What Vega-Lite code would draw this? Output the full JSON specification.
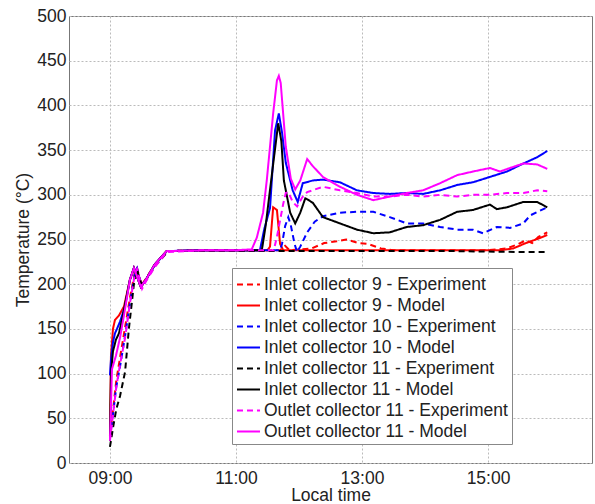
{
"$schema":"https://vega.github.io/schema/vega-lite/v6.json",
"width":523,"height":447,
"autosize":"none",
"padding":{"left":69,"top":16,"right":3,"bottom":41},
"config":{"view":{"stroke":"#777","strokeWidth":1},"font":"Liberation Sans",
"axis":{"labelFontSize":17.5,"titleFontSize":17.5,"titleFontWeight":"normal","labelColor":"#222","titleColor":"#222","grid":true,"gridDash":[2,2],"gridColor":"#bbb","tickSize":0,"domain":false},
"legend":{"orient":"none","legendX":163,"legendY":252,"labelFontSize":17.5,"labelColor":"#222","symbolType":"stroke","symbolStrokeWidth":2,"symbolSize":529,"strokeColor":"#888","fillColor":"white","padding":4,"rowPadding":-1.3,"labelOffset":3,"labelLimit":400,"cornerRadius":0}},
"data":{"values":[
{"s":"Inlet collector 9 - Experiment","t":9.0,"v":30},{"s":"Inlet collector 9 - Experiment","t":9.05,"v":60},{"s":"Inlet collector 9 - Experiment","t":9.1,"v":92},{"s":"Inlet collector 9 - Experiment","t":9.16,"v":118},{"s":"Inlet collector 9 - Experiment","t":9.24,"v":152},{"s":"Inlet collector 9 - Experiment","t":9.32,"v":186},{"s":"Inlet collector 9 - Experiment","t":9.4,"v":215},{"s":"Inlet collector 9 - Experiment","t":9.43,"v":218},{"s":"Inlet collector 9 - Experiment","t":9.5,"v":199},{"s":"Inlet collector 9 - Experiment","t":9.57,"v":206},{"s":"Inlet collector 9 - Experiment","t":9.71,"v":222},{"s":"Inlet collector 9 - Experiment","t":9.9,"v":237},{"s":"Inlet collector 9 - Experiment","t":10.5,"v":238},{"s":"Inlet collector 9 - Experiment","t":11.0,"v":238},{"s":"Inlet collector 9 - Experiment","t":11.5,"v":238},{"s":"Inlet collector 9 - Experiment","t":11.7,"v":238},{"s":"Inlet collector 9 - Experiment","t":11.78,"v":243},{"s":"Inlet collector 9 - Experiment","t":11.85,"v":238},{"s":"Inlet collector 9 - Experiment","t":12.2,"v":240},{"s":"Inlet collector 9 - Experiment","t":12.4,"v":246},{"s":"Inlet collector 9 - Experiment","t":12.6,"v":248},{"s":"Inlet collector 9 - Experiment","t":12.75,"v":250},{"s":"Inlet collector 9 - Experiment","t":12.95,"v":246},{"s":"Inlet collector 9 - Experiment","t":13.1,"v":245},{"s":"Inlet collector 9 - Experiment","t":13.3,"v":240},{"s":"Inlet collector 9 - Experiment","t":13.5,"v":238},{"s":"Inlet collector 9 - Experiment","t":14.0,"v":238},{"s":"Inlet collector 9 - Experiment","t":14.5,"v":238},{"s":"Inlet collector 9 - Experiment","t":15.0,"v":238},{"s":"Inlet collector 9 - Experiment","t":15.3,"v":240},{"s":"Inlet collector 9 - Experiment","t":15.45,"v":244},{"s":"Inlet collector 9 - Experiment","t":15.6,"v":249},{"s":"Inlet collector 9 - Experiment","t":15.7,"v":246},{"s":"Inlet collector 9 - Experiment","t":15.8,"v":253},{"s":"Inlet collector 9 - Experiment","t":15.94,"v":258},
{"s":"Inlet collector 9 - Model","t":9.0,"v":30},{"s":"Inlet collector 9 - Model","t":9.016,"v":120},{"s":"Inlet collector 9 - Model","t":9.048,"v":150},{"s":"Inlet collector 9 - Model","t":9.079,"v":160},{"s":"Inlet collector 9 - Model","t":9.143,"v":165},{"s":"Inlet collector 9 - Model","t":9.222,"v":175},{"s":"Inlet collector 9 - Model","t":9.317,"v":205},{"s":"Inlet collector 9 - Model","t":9.38,"v":218},{"s":"Inlet collector 9 - Model","t":9.49,"v":197},{"s":"Inlet collector 9 - Model","t":9.57,"v":205},{"s":"Inlet collector 9 - Model","t":9.71,"v":222},{"s":"Inlet collector 9 - Model","t":9.9,"v":237},{"s":"Inlet collector 9 - Model","t":10.5,"v":238},{"s":"Inlet collector 9 - Model","t":11.0,"v":238},{"s":"Inlet collector 9 - Model","t":11.5,"v":238},{"s":"Inlet collector 9 - Model","t":11.54,"v":242},{"s":"Inlet collector 9 - Model","t":11.59,"v":286},{"s":"Inlet collector 9 - Model","t":11.65,"v":283},{"s":"Inlet collector 9 - Model","t":11.7,"v":245},{"s":"Inlet collector 9 - Model","t":11.75,"v":238},{"s":"Inlet collector 9 - Model","t":12.5,"v":238},{"s":"Inlet collector 9 - Model","t":13.5,"v":238},{"s":"Inlet collector 9 - Model","t":14.5,"v":238},{"s":"Inlet collector 9 - Model","t":15.2,"v":238},{"s":"Inlet collector 9 - Model","t":15.4,"v":240},{"s":"Inlet collector 9 - Model","t":15.6,"v":246},{"s":"Inlet collector 9 - Model","t":15.8,"v":251},{"s":"Inlet collector 9 - Model","t":15.94,"v":255},
{"s":"Inlet collector 10 - Experiment","t":9.0,"v":28},{"s":"Inlet collector 10 - Experiment","t":9.05,"v":55},{"s":"Inlet collector 10 - Experiment","t":9.1,"v":85},{"s":"Inlet collector 10 - Experiment","t":9.16,"v":108},{"s":"Inlet collector 10 - Experiment","t":9.24,"v":142},{"s":"Inlet collector 10 - Experiment","t":9.32,"v":180},{"s":"Inlet collector 10 - Experiment","t":9.4,"v":214},{"s":"Inlet collector 10 - Experiment","t":9.43,"v":218},{"s":"Inlet collector 10 - Experiment","t":9.5,"v":198},{"s":"Inlet collector 10 - Experiment","t":9.57,"v":205},{"s":"Inlet collector 10 - Experiment","t":9.71,"v":221},{"s":"Inlet collector 10 - Experiment","t":9.9,"v":237},{"s":"Inlet collector 10 - Experiment","t":10.5,"v":238},{"s":"Inlet collector 10 - Experiment","t":11.0,"v":238},{"s":"Inlet collector 10 - Experiment","t":11.5,"v":238},{"s":"Inlet collector 10 - Experiment","t":11.7,"v":238},{"s":"Inlet collector 10 - Experiment","t":11.73,"v":245},{"s":"Inlet collector 10 - Experiment","t":11.78,"v":265},{"s":"Inlet collector 10 - Experiment","t":11.83,"v":275},{"s":"Inlet collector 10 - Experiment","t":11.87,"v":266},{"s":"Inlet collector 10 - Experiment","t":11.93,"v":245},{"s":"Inlet collector 10 - Experiment","t":11.97,"v":236},{"s":"Inlet collector 10 - Experiment","t":12.02,"v":242},{"s":"Inlet collector 10 - Experiment","t":12.13,"v":258},{"s":"Inlet collector 10 - Experiment","t":12.25,"v":270},{"s":"Inlet collector 10 - Experiment","t":12.38,"v":276},{"s":"Inlet collector 10 - Experiment","t":12.65,"v":280},{"s":"Inlet collector 10 - Experiment","t":12.92,"v":281},{"s":"Inlet collector 10 - Experiment","t":13.18,"v":281},{"s":"Inlet collector 10 - Experiment","t":13.44,"v":275},{"s":"Inlet collector 10 - Experiment","t":13.71,"v":268},{"s":"Inlet collector 10 - Experiment","t":13.97,"v":268},{"s":"Inlet collector 10 - Experiment","t":14.24,"v":264},{"s":"Inlet collector 10 - Experiment","t":14.51,"v":261},{"s":"Inlet collector 10 - Experiment","t":14.76,"v":261},{"s":"Inlet collector 10 - Experiment","t":14.92,"v":257},{"s":"Inlet collector 10 - Experiment","t":15.14,"v":264},{"s":"Inlet collector 10 - Experiment","t":15.35,"v":263},{"s":"Inlet collector 10 - Experiment","t":15.56,"v":268},{"s":"Inlet collector 10 - Experiment","t":15.67,"v":277},{"s":"Inlet collector 10 - Experiment","t":15.94,"v":286},
{"s":"Inlet collector 10 - Model","t":9.0,"v":98},{"s":"Inlet collector 10 - Model","t":9.016,"v":115},{"s":"Inlet collector 10 - Model","t":9.048,"v":135},{"s":"Inlet collector 10 - Model","t":9.079,"v":145},{"s":"Inlet collector 10 - Model","t":9.111,"v":150},{"s":"Inlet collector 10 - Model","t":9.159,"v":158},{"s":"Inlet collector 10 - Model","t":9.238,"v":175},{"s":"Inlet collector 10 - Model","t":9.317,"v":205},{"s":"Inlet collector 10 - Model","t":9.38,"v":218},{"s":"Inlet collector 10 - Model","t":9.49,"v":197},{"s":"Inlet collector 10 - Model","t":9.57,"v":205},{"s":"Inlet collector 10 - Model","t":9.71,"v":222},{"s":"Inlet collector 10 - Model","t":9.9,"v":237},{"s":"Inlet collector 10 - Model","t":10.5,"v":238},{"s":"Inlet collector 10 - Model","t":11.0,"v":238},{"s":"Inlet collector 10 - Model","t":11.38,"v":238},{"s":"Inlet collector 10 - Model","t":11.45,"v":262},{"s":"Inlet collector 10 - Model","t":11.54,"v":285},{"s":"Inlet collector 10 - Model","t":11.62,"v":372},{"s":"Inlet collector 10 - Model","t":11.68,"v":391},{"s":"Inlet collector 10 - Model","t":11.73,"v":370},{"s":"Inlet collector 10 - Model","t":11.79,"v":336},{"s":"Inlet collector 10 - Model","t":11.9,"v":305},{"s":"Inlet collector 10 - Model","t":11.98,"v":292},{"s":"Inlet collector 10 - Model","t":12.06,"v":313},{"s":"Inlet collector 10 - Model","t":12.22,"v":316},{"s":"Inlet collector 10 - Model","t":12.38,"v":317},{"s":"Inlet collector 10 - Model","t":12.65,"v":314},{"s":"Inlet collector 10 - Model","t":12.92,"v":305},{"s":"Inlet collector 10 - Model","t":13.18,"v":302},{"s":"Inlet collector 10 - Model","t":13.44,"v":301},{"s":"Inlet collector 10 - Model","t":13.71,"v":302},{"s":"Inlet collector 10 - Model","t":13.97,"v":301},{"s":"Inlet collector 10 - Model","t":14.24,"v":305},{"s":"Inlet collector 10 - Model","t":14.51,"v":311},{"s":"Inlet collector 10 - Model","t":14.76,"v":314},{"s":"Inlet collector 10 - Model","t":15.03,"v":320},{"s":"Inlet collector 10 - Model","t":15.3,"v":326},{"s":"Inlet collector 10 - Model","t":15.56,"v":335},{"s":"Inlet collector 10 - Model","t":15.78,"v":342},{"s":"Inlet collector 10 - Model","t":15.94,"v":349},
{"s":"Inlet collector 11 - Experiment","t":9.0,"v":18},{"s":"Inlet collector 11 - Experiment","t":9.05,"v":40},{"s":"Inlet collector 11 - Experiment","t":9.1,"v":60},{"s":"Inlet collector 11 - Experiment","t":9.16,"v":75},{"s":"Inlet collector 11 - Experiment","t":9.24,"v":102},{"s":"Inlet collector 11 - Experiment","t":9.3,"v":150},{"s":"Inlet collector 11 - Experiment","t":9.38,"v":200},{"s":"Inlet collector 11 - Experiment","t":9.43,"v":216},{"s":"Inlet collector 11 - Experiment","t":9.51,"v":198},{"s":"Inlet collector 11 - Experiment","t":9.57,"v":204},{"s":"Inlet collector 11 - Experiment","t":9.71,"v":220},{"s":"Inlet collector 11 - Experiment","t":9.9,"v":235},{"s":"Inlet collector 11 - Experiment","t":9.95,"v":237},{"s":"Inlet collector 11 - Experiment","t":10.5,"v":237},{"s":"Inlet collector 11 - Experiment","t":11.5,"v":237},{"s":"Inlet collector 11 - Experiment","t":12.5,"v":237},{"s":"Inlet collector 11 - Experiment","t":13.5,"v":237},{"s":"Inlet collector 11 - Experiment","t":14.5,"v":237},{"s":"Inlet collector 11 - Experiment","t":15.5,"v":236},{"s":"Inlet collector 11 - Experiment","t":15.94,"v":236},
{"s":"Inlet collector 11 - Model","t":9.0,"v":25},{"s":"Inlet collector 11 - Model","t":9.016,"v":100},{"s":"Inlet collector 11 - Model","t":9.048,"v":125},{"s":"Inlet collector 11 - Model","t":9.095,"v":138},{"s":"Inlet collector 11 - Model","t":9.143,"v":145},{"s":"Inlet collector 11 - Model","t":9.206,"v":165},{"s":"Inlet collector 11 - Model","t":9.317,"v":205},{"s":"Inlet collector 11 - Model","t":9.38,"v":218},{"s":"Inlet collector 11 - Model","t":9.49,"v":197},{"s":"Inlet collector 11 - Model","t":9.57,"v":205},{"s":"Inlet collector 11 - Model","t":9.71,"v":222},{"s":"Inlet collector 11 - Model","t":9.9,"v":237},{"s":"Inlet collector 11 - Model","t":10.5,"v":238},{"s":"Inlet collector 11 - Model","t":11.0,"v":238},{"s":"Inlet collector 11 - Model","t":11.41,"v":238},{"s":"Inlet collector 11 - Model","t":11.47,"v":265},{"s":"Inlet collector 11 - Model","t":11.56,"v":317},{"s":"Inlet collector 11 - Model","t":11.67,"v":380},{"s":"Inlet collector 11 - Model","t":11.72,"v":360},{"s":"Inlet collector 11 - Model","t":11.76,"v":316},{"s":"Inlet collector 11 - Model","t":11.86,"v":280},{"s":"Inlet collector 11 - Model","t":11.94,"v":268},{"s":"Inlet collector 11 - Model","t":12.02,"v":280},{"s":"Inlet collector 11 - Model","t":12.1,"v":296},{"s":"Inlet collector 11 - Model","t":12.13,"v":295},{"s":"Inlet collector 11 - Model","t":12.22,"v":291},{"s":"Inlet collector 11 - Model","t":12.38,"v":275},{"s":"Inlet collector 11 - Model","t":12.65,"v":268},{"s":"Inlet collector 11 - Model","t":12.92,"v":261},{"s":"Inlet collector 11 - Model","t":13.18,"v":257},{"s":"Inlet collector 11 - Model","t":13.44,"v":258},{"s":"Inlet collector 11 - Model","t":13.71,"v":264},{"s":"Inlet collector 11 - Model","t":13.97,"v":266},{"s":"Inlet collector 11 - Model","t":14.24,"v":272},{"s":"Inlet collector 11 - Model","t":14.51,"v":281},{"s":"Inlet collector 11 - Model","t":14.76,"v":283},{"s":"Inlet collector 11 - Model","t":15.03,"v":289},{"s":"Inlet collector 11 - Model","t":15.14,"v":284},{"s":"Inlet collector 11 - Model","t":15.3,"v":286},{"s":"Inlet collector 11 - Model","t":15.56,"v":292},{"s":"Inlet collector 11 - Model","t":15.78,"v":292},{"s":"Inlet collector 11 - Model","t":15.94,"v":286},
{"s":"Outlet collector 11 - Experiment","t":9.0,"v":25},{"s":"Outlet collector 11 - Experiment","t":9.05,"v":55},{"s":"Outlet collector 11 - Experiment","t":9.1,"v":85},{"s":"Outlet collector 11 - Experiment","t":9.16,"v":110},{"s":"Outlet collector 11 - Experiment","t":9.24,"v":140},{"s":"Outlet collector 11 - Experiment","t":9.32,"v":180},{"s":"Outlet collector 11 - Experiment","t":9.4,"v":213},{"s":"Outlet collector 11 - Experiment","t":9.43,"v":217},{"s":"Outlet collector 11 - Experiment","t":9.51,"v":195},{"s":"Outlet collector 11 - Experiment","t":9.57,"v":203},{"s":"Outlet collector 11 - Experiment","t":9.71,"v":219},{"s":"Outlet collector 11 - Experiment","t":9.9,"v":236},{"s":"Outlet collector 11 - Experiment","t":10.5,"v":238},{"s":"Outlet collector 11 - Experiment","t":11.0,"v":238},{"s":"Outlet collector 11 - Experiment","t":11.6,"v":238},{"s":"Outlet collector 11 - Experiment","t":11.65,"v":253},{"s":"Outlet collector 11 - Experiment","t":11.75,"v":290},{"s":"Outlet collector 11 - Experiment","t":11.79,"v":302},{"s":"Outlet collector 11 - Experiment","t":11.83,"v":303},{"s":"Outlet collector 11 - Experiment","t":11.9,"v":292},{"s":"Outlet collector 11 - Experiment","t":11.97,"v":287},{"s":"Outlet collector 11 - Experiment","t":12.05,"v":297},{"s":"Outlet collector 11 - Experiment","t":12.13,"v":303},{"s":"Outlet collector 11 - Experiment","t":12.38,"v":309},{"s":"Outlet collector 11 - Experiment","t":12.65,"v":305},{"s":"Outlet collector 11 - Experiment","t":12.92,"v":302},{"s":"Outlet collector 11 - Experiment","t":13.18,"v":298},{"s":"Outlet collector 11 - Experiment","t":13.44,"v":298},{"s":"Outlet collector 11 - Experiment","t":13.71,"v":300},{"s":"Outlet collector 11 - Experiment","t":13.97,"v":298},{"s":"Outlet collector 11 - Experiment","t":14.24,"v":300},{"s":"Outlet collector 11 - Experiment","t":14.51,"v":298},{"s":"Outlet collector 11 - Experiment","t":14.76,"v":300},{"s":"Outlet collector 11 - Experiment","t":15.03,"v":300},{"s":"Outlet collector 11 - Experiment","t":15.3,"v":302},{"s":"Outlet collector 11 - Experiment","t":15.56,"v":302},{"s":"Outlet collector 11 - Experiment","t":15.78,"v":305},{"s":"Outlet collector 11 - Experiment","t":15.94,"v":304},
{"s":"Outlet collector 11 - Model","t":9.0,"v":25},{"s":"Outlet collector 11 - Model","t":9.032,"v":105},{"s":"Outlet collector 11 - Model","t":9.095,"v":120},{"s":"Outlet collector 11 - Model","t":9.159,"v":140},{"s":"Outlet collector 11 - Model","t":9.222,"v":165},{"s":"Outlet collector 11 - Model","t":9.317,"v":205},{"s":"Outlet collector 11 - Model","t":9.38,"v":218},{"s":"Outlet collector 11 - Model","t":9.49,"v":197},{"s":"Outlet collector 11 - Model","t":9.57,"v":205},{"s":"Outlet collector 11 - Model","t":9.71,"v":222},{"s":"Outlet collector 11 - Model","t":9.9,"v":237},{"s":"Outlet collector 11 - Model","t":10.5,"v":238},{"s":"Outlet collector 11 - Model","t":11.0,"v":238},{"s":"Outlet collector 11 - Model","t":11.25,"v":239},{"s":"Outlet collector 11 - Model","t":11.33,"v":252},{"s":"Outlet collector 11 - Model","t":11.43,"v":280},{"s":"Outlet collector 11 - Model","t":11.49,"v":317},{"s":"Outlet collector 11 - Model","t":11.59,"v":391},{"s":"Outlet collector 11 - Model","t":11.65,"v":428},{"s":"Outlet collector 11 - Model","t":11.68,"v":433},{"s":"Outlet collector 11 - Model","t":11.71,"v":425},{"s":"Outlet collector 11 - Model","t":11.79,"v":354},{"s":"Outlet collector 11 - Model","t":11.87,"v":318},{"s":"Outlet collector 11 - Model","t":11.94,"v":306},{"s":"Outlet collector 11 - Model","t":12.02,"v":316},{"s":"Outlet collector 11 - Model","t":12.13,"v":340},{"s":"Outlet collector 11 - Model","t":12.22,"v":332},{"s":"Outlet collector 11 - Model","t":12.38,"v":320},{"s":"Outlet collector 11 - Model","t":12.65,"v":309},{"s":"Outlet collector 11 - Model","t":12.92,"v":300},{"s":"Outlet collector 11 - Model","t":13.18,"v":294},{"s":"Outlet collector 11 - Model","t":13.44,"v":298},{"s":"Outlet collector 11 - Model","t":13.71,"v":302},{"s":"Outlet collector 11 - Model","t":13.97,"v":305},{"s":"Outlet collector 11 - Model","t":14.24,"v":313},{"s":"Outlet collector 11 - Model","t":14.51,"v":322},{"s":"Outlet collector 11 - Model","t":14.76,"v":326},{"s":"Outlet collector 11 - Model","t":15.03,"v":330},{"s":"Outlet collector 11 - Model","t":15.19,"v":326},{"s":"Outlet collector 11 - Model","t":15.35,"v":330},{"s":"Outlet collector 11 - Model","t":15.56,"v":335},{"s":"Outlet collector 11 - Model","t":15.78,"v":334},{"s":"Outlet collector 11 - Model","t":15.94,"v":329}
]},
"mark":{"type":"line","strokeWidth":2,"clip":true},
"encoding":{
"x":{"field":"t","type":"quantitative","scale":{"domain":[8.35,16.65],"nice":false,"zero":false},"axis":{"values":[9,11,13,15],"labelExpr":"(datum.value<10?'0':'')+datum.value+':00'","title":"Local time","labelPadding":6,"titlePadding":0}},
"y":{"field":"v","type":"quantitative","scale":{"domain":[0,500],"nice":false},"axis":{"values":[0,50,100,150,200,250,300,350,400,450,500],"title":"Temperature (°C)","labelPadding":3,"titlePadding":4}},
"color":{"field":"s","type":"nominal","title":null,"scale":{"domain":["Inlet collector 9 - Experiment","Inlet collector 9 - Model","Inlet collector 10 - Experiment","Inlet collector 10 - Model","Inlet collector 11 - Experiment","Inlet collector 11 - Model","Outlet collector 11 - Experiment","Outlet collector 11 - Model"],"range":["#ff0000","#ff0000","#0000ff","#0000ff","#000000","#000000","#ff00ff","#ff00ff"]}},
"strokeDash":{"field":"s","type":"nominal","title":null,"scale":{"domain":["Inlet collector 9 - Experiment","Inlet collector 9 - Model","Inlet collector 10 - Experiment","Inlet collector 10 - Model","Inlet collector 11 - Experiment","Inlet collector 11 - Model","Outlet collector 11 - Experiment","Outlet collector 11 - Model"],"range":[[6,4],[1,0],[6,4],[1,0],[6,4],[1,0],[6,4],[1,0]]}}
}
}
